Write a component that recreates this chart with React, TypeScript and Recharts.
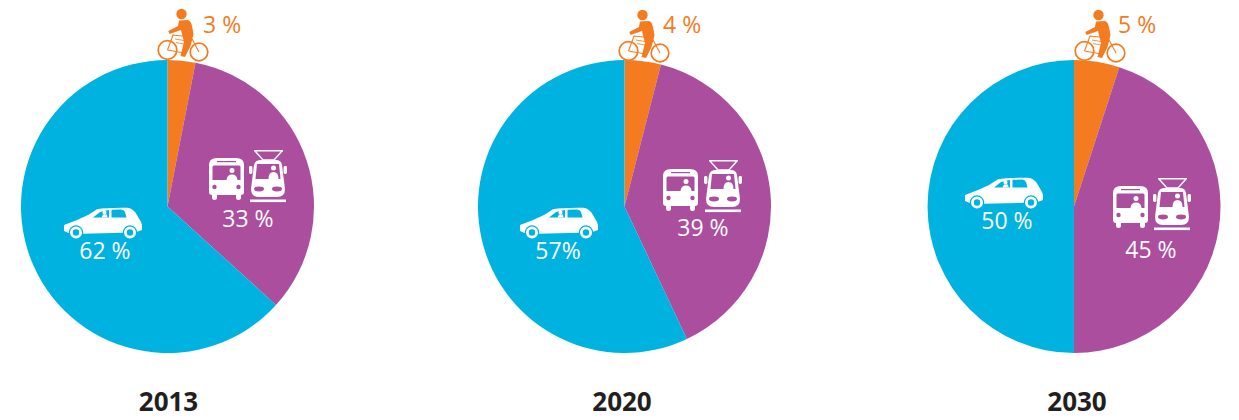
import { Pie, PieChart } from "recharts";

const years = ["2013", "2020", "2030"];
const bikeValues = [3, 4, 5];
const transitValues = [33, 39, 45];
const carValues = [62, 57, 50];
const bikeLabels = ["3 %", "4 %", "5 %"];
const transitLabels = ["33 %", "39 %", "45 %"];
const carLabels = ["62 %", "57%", "50 %"];

const ORANGE = "#f57b20";
const PURPLE = "#aa4e9d";
const CYAN = "#00b2df";
const FONT = "'Open Sans', sans-serif";

// where each pie and its icons sit on the page
const spots = [
  {
    cx: 167.5, yearX: 168.5,
    bike: [157, 9], bikeText: [203, 33],
    bus: [209, 158], tram: [249, 150], transitText: [248, 227],
    car: [63, 207], carText: [105, 259],
  },
  {
    cx: 624.5, yearX: 622,
    bike: [618, 10], bikeText: [663, 33],
    bus: [663, 169], tram: [704, 160], transitText: [703, 236],
    car: [519, 207], carText: [558, 259],
  },
  {
    cx: 1074, yearX: 1077,
    bike: [1074, 10], bikeText: [1118, 33],
    bus: [1113, 186], tram: [1153, 178], transitText: [1151, 258],
    car: [964, 177], carText: [1007, 229],
  },
];

const pieData = years.map((_, i) => [
  { name: "Bike", value: bikeValues[i], fill: ORANGE },
  { name: "Transit", value: transitValues[i], fill: PURPLE },
  { name: "Car", value: carValues[i], fill: CYAN },
]);

function Bike({ x, y }: { x: number; y: number }) {
  return (
    <g transform={`translate(${x} ${y})`}>
      <circle cx={24.5} cy={5} r={5.2} fill={ORANGE} />
      <path
        d="M22 11.5 L31 11 Q34 12 35 17 L36.5 25 L33.5 37 L28 48 L23.5 47 L27 33 L25.5 27 L24 21 L12.5 25 L11.3 22 L21 17 Z"
        fill={ORANGE}
      />
      <g fill="none" stroke={ORANGE}>
        <circle cx={10.5} cy={41} r={9.3} strokeWidth={1.7} />
        <circle cx={42} cy={43} r={8.8} strokeWidth={1.7} />
        <path d="M10.5 41 L16 26 L34 28 L42 43 M10.5 41 L27 44 L35 30" strokeWidth={1.1} />
        <path d="M18 30 L27 31.5 M19 33.5 L27 35" strokeWidth={0.8} />
      </g>
    </g>
  );
}

function Bus({ x, y }: { x: number; y: number }) {
  return (
    <g transform={`translate(${x} ${y})`}>
      <path
        d="M0 7 Q0 0 8 0 L27 0 Q35 0 35 7 L35 34 Q35 37 32 37 L32 40 Q32 42 29.5 42 Q27 42 27 40 L27 37 L8 37 L8 40 Q8 42 5.5 42 Q3 42 3 40 L3 37 Q0 37 0 34 Z"
        fill="#fff"
      />
      <path d="M3.5 9 Q3.5 7.5 5 7.5 L30 7.5 Q31.5 7.5 31.5 9 L31.5 22 L3.5 22 Z" fill={PURPLE} />
      <rect x={8} y={3} width={19} height={1.2} fill={PURPLE} />
      <circle cx={23} cy={12.5} r={2.5} fill="#fff" />
      <path d="M17.5 22 Q18 16.5 23 16.5 Q28 16.5 28.5 22 Z" fill="#fff" />
      <circle cx={5.5} cy={29} r={2.2} fill={PURPLE} />
      <circle cx={29.5} cy={29} r={2.2} fill={PURPLE} />
    </g>
  );
}

function Tram({ x, y }: { x: number; y: number }) {
  return (
    <g transform={`translate(${x} ${y})`}>
      <path d="M6 1 L14 10 L25 10 L33 1 M5 0.8 L34 0.8" fill="none" stroke="#fff" strokeWidth={1.4} />
      <path
        d="M5 15 Q6 10 12 10 L27 10 Q32 10 33 15 L36 39 Q36 47 28 47 L10 47 Q2 47 2 39 Z"
        fill="#fff"
      />
      <path d="M8 14 L30 14 L31.5 29 L6.5 29 Z" fill={PURPLE} />
      <circle cx={24.5} cy={18} r={2.5} fill="#fff" />
      <path d="M19.5 29 Q19.5 22 24.5 22 Q29.5 22 29.5 29 Z" fill="#fff" />
      <ellipse cx={10} cy={39} rx={5} ry={2.4} fill={PURPLE} />
      <ellipse cx={28} cy={39} rx={5} ry={2.4} fill={PURPLE} />
      <rect x={0} y={16} width={3.4} height={8} rx={1.4} fill="#fff" />
      <rect x={34.6} y={16} width={3.4} height={8} rx={1.4} fill="#fff" />
      <rect x={1} y={49.5} width={36} height={2.6} fill="#fff" />
    </g>
  );
}

function Car({ x, y }: { x: number; y: number }) {
  return (
    <g transform={`translate(${x} ${y})`}>
      <path
        d="M1 18 L14 13 L25 8 L34 2.3 Q44 0.5 64 0.8 Q70 1 74 8 L78 15 L79 18 L79 23 L72 25.5 L8 27 L1 24 Z"
        fill="#fff"
      />
      <path d="M30 10.5 L37 5 L46 3 L46 10.5 Z" fill={CYAN} />
      <path d="M48.5 2.8 L58 2.5 Q61 2.5 62 5 L63.5 10.5 L48.5 10.5 Z" fill={CYAN} />
      <circle cx={41.5} cy={5.5} r={2} fill="#fff" />
      <path d="M38.5 10.5 L40 7.5 L44 7.5 L44.5 10.5 Z" fill="#fff" />
      {[13, 67].map((c) => (
        <g key={c}>
          <circle cx={c} cy={25.5} r={7.2} fill={CYAN} />
          <circle cx={c} cy={25.5} r={4.6} fill={CYAN} stroke="#fff" strokeWidth={2.8} />
        </g>
      ))}
    </g>
  );
}

export default function App() {
  const labelStyle = { fontFamily: FONT, fontSize: 23 };
  return (
    <div style={{ position: "absolute", left: 0, top: 0, width: 1239, height: 420, background: "#fff" }}>
      <PieChart width={1239} height={420} margin={{ top: 0, right: 0, bottom: 0, left: 0 }}>
        {pieData.map((rows, i) => (
          <Pie
            key={years[i]}
            data={rows}
            dataKey="value"
            nameKey="name"
            cx={spots[i].cx}
            cy={206.5}
            innerRadius={0}
            outerRadius={146.5}
            startAngle={90}
            endAngle={-270}
            stroke="none"
            isAnimationActive={false}
          />
        ))}
      </PieChart>
      {/* Recharts paints sectors over its svg children, so icons and labels get their own layer */}
      <svg width={1239} height={420} style={{ position: "absolute", left: 0, top: 0 }}>
        {years.map((year, i) => {
          const s = spots[i];
          return (
            <g key={year}>
              <Bike x={s.bike[0]} y={s.bike[1]} />
              <Bus x={s.bus[0]} y={s.bus[1]} />
              <Tram x={s.tram[0]} y={s.tram[1]} />
              <Car x={s.car[0]} y={s.car[1]} />
              <text x={s.bikeText[0]} y={s.bikeText[1]} fill={ORANGE} style={labelStyle}>
                {bikeLabels[i]}
              </text>
              <text x={s.transitText[0]} y={s.transitText[1]} fill="#fff" textAnchor="middle" style={labelStyle}>
                {transitLabels[i]}
              </text>
              <text x={s.carText[0]} y={s.carText[1]} fill="#fff" textAnchor="middle" style={labelStyle}>
                {carLabels[i]}
              </text>
              <text
                x={s.yearX}
                y={411}
                fill="#231f20"
                textAnchor="middle"
                style={{ fontFamily: FONT, fontSize: 26, fontWeight: 700 }}
              >
                {year}
              </text>
            </g>
          );
        })}
      </svg>
    </div>
  );
}
